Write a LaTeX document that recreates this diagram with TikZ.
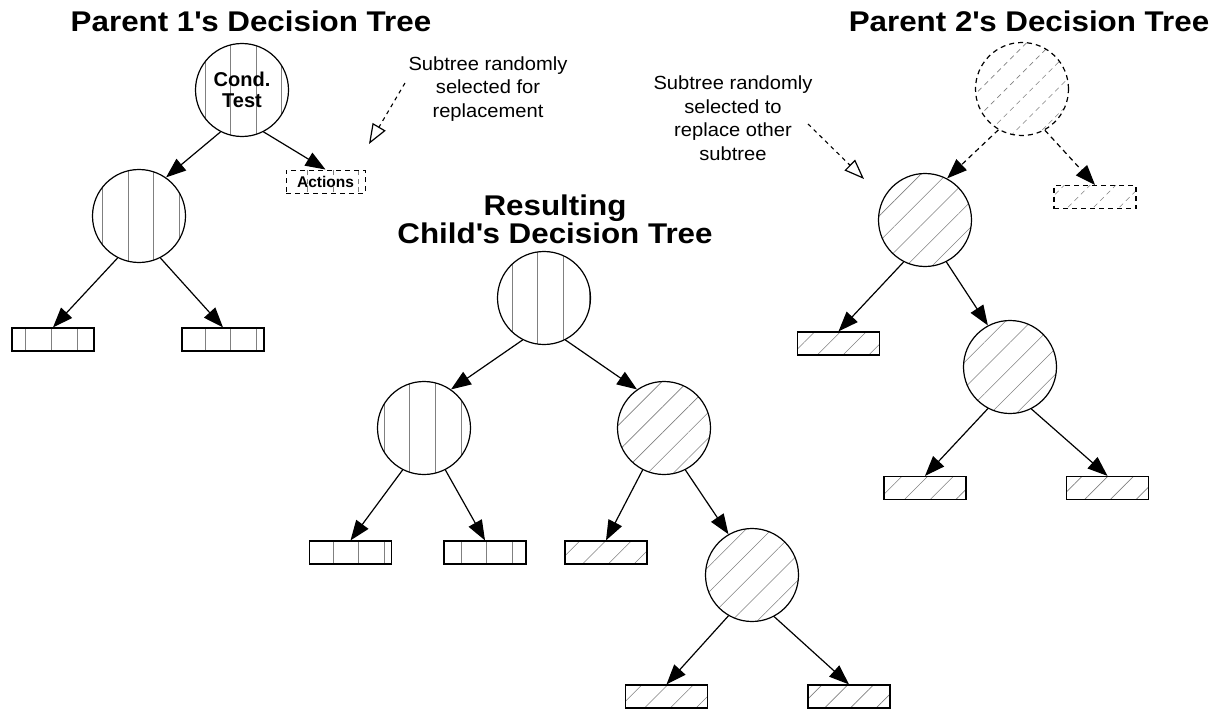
\documentclass[tikz,border=0pt]{standalone}
\usepackage{fontspec}
\setmainfont{Liberation Sans}
\newfontfamily\titlefont{Liberation Sans}[FakeStretch=1.1]
\newfontfamily\notefont{Liberation Sans}[FakeStretch=1.06]
\usetikzlibrary{arrows.meta,patterns.meta}
\begin{document}
\begin{tikzpicture}[x=1pt,y=-1pt,
 cnode/.style={circle,draw,line width=1.2pt,minimum size=93pt,inner sep=0pt},
 leaf/.style={rectangle,draw,line width=1.2pt,minimum width=82pt,minimum height=23pt,inner sep=0pt},
 vpat/.style={pattern={Lines[angle=90,distance=25.6pt,line width=0.6pt]},pattern color=gray},
 hpat/.style={pattern={Lines[angle=45,distance=18.2pt,line width=0.6pt]},pattern color=gray},
 edge/.style={line width=1.2pt,-{Triangle[length=20pt,width=15pt]}},
 dedge/.style={edge,dash pattern=on 5pt off 4pt},
 dborder/.style={dash pattern=on 5pt off 4pt,line width=1.2pt},
 note/.style={line width=1.1pt,dash pattern=on 4pt off 4pt,-{Triangle[open,length=20pt,width=15pt,line width=1.2pt]}},
 title/.style={font=\titlefont\fontsize{28.5}{28}\selectfont\bfseries,align=center},
 notetext/.style={font=\notefont\fontsize{19}{23.5}\selectfont,align=center}
]
\useasboundingbox (0,0) rectangle (1226,709);

% titles
\node[title,anchor=base] (t1) at (251,32) {Parent 1\textquotesingle s Decision Tree};
\node[title,anchor=base] (t2) at (1029,32) {Parent 2\textquotesingle s Decision Tree};
\node[title] (t3) at (555,219) {Resulting\\Child\textquotesingle s Decision Tree};

% annotations
\node[notetext] (n1) at (488,89) {Subtree randomly\\selected for\\replacement};
\node[notetext] (n2) at (733,118) {Subtree randomly\\selected to\\replace other\\subtree};
\coordinate (n1s) at (405,83);
\coordinate (n1e) at (369,144);
\coordinate (n2s) at (808,124);
\coordinate (n2e) at (864,179);
\draw[note] (n1s) -- (n1e);
\draw[note] (n2s) -- (n2e);

% Parent 1
\node[cnode,vpat,font=\fontsize{20}{21}\selectfont\bfseries,align=center] (p1r) at (242,90) {Cond.\\Test};
\node[leaf,vpat,dborder,line width=1pt,minimum width=79pt,font=\fontsize{15.5}{16}\selectfont\bfseries] (p1a) at (325.5,181.5) {Actions};
\node[cnode,vpat] (p1l) at (139,216) {};
\node[leaf,vpat] (p1ll) at (53,339.5) {};
\node[leaf,vpat] (p1lr) at (223,339.5) {};
\draw[edge] (p1r.243) -- (p1l.55);
\draw[edge] (p1r.297) -- (p1a.north);
\draw[edge] (p1l.243) -- (p1ll.north);
\draw[edge] (p1l.297) -- (p1lr.north);

% Parent 2
\node[cnode,hpat,dborder] (p2r) at (1022,89) {};
\node[leaf,hpat,dborder] (p2a) at (1095,197) {};
\node[cnode,hpat] (p2l) at (925,220) {};
\node[leaf,hpat] (p2ll) at (838.5,343.5) {};
\node[cnode,hpat] (p2lr) at (1010,367) {};
\node[leaf,hpat] (p2lrl) at (925,488) {};
\node[leaf,hpat] (p2lrr) at (1107.5,488) {};
\draw[dedge] (p2r.240) -- (p2l.62);
\draw[dedge] (p2r.299) -- (p2a.north);
\draw[edge] (p2l.243) -- (p2ll.north);
\draw[edge] (p2l.297) -- (p2lr.118);
\draw[edge] (p2lr.242) -- (p2lrl.north);
\draw[edge] (p2lr.297) -- (p2lrr.north);

% Child
\node[cnode,vpat] (cr) at (544,298) {};
\node[cnode,vpat] (cl) at (424,428) {};
\node[cnode,hpat] (crr) at (664,428) {};
\node[leaf,vpat] (cll) at (350.5,552.5) {};
\node[leaf,vpat] (clr) at (485,552.5) {};
\node[leaf,hpat] (crl) at (606,552.5) {};
\node[cnode,hpat] (cc) at (752,575) {};
\node[leaf,hpat] (ccl) at (666.5,696.5) {};
\node[leaf,hpat] (ccr) at (849,696.5) {};
\draw[edge] (cr.243) -- (cl.55);
\draw[edge] (cr.297) -- (crr.125);
\draw[edge] (cl.243) -- (cll.north);
\draw[edge] (cl.297) -- (clr.north);
\draw[edge] (crr.243) -- (crl.north);
\draw[edge] (crr.297) -- (cc.120);
\draw[edge] (cc.240) -- (ccl.north);
\draw[edge] (cc.298) -- (ccr.north);
\end{tikzpicture}
\end{document}
